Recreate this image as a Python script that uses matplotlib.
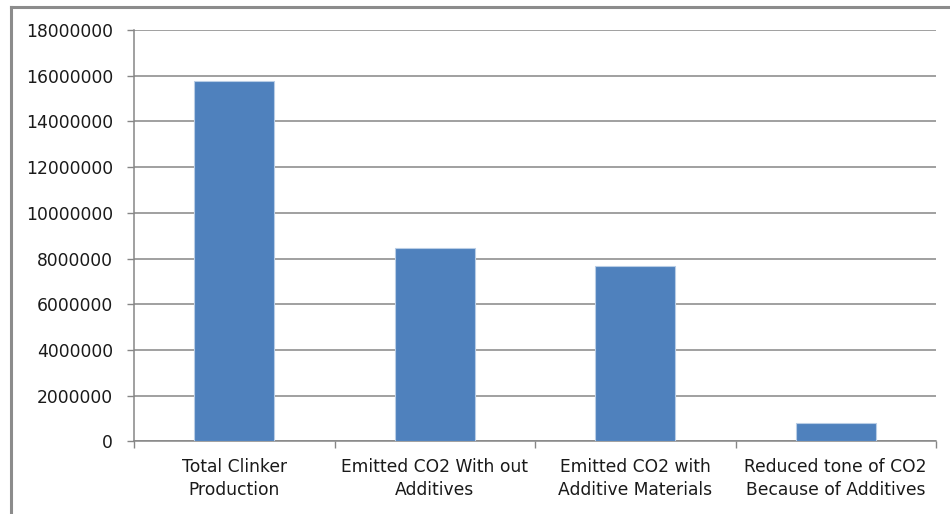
import matplotlib
matplotlib.use("Agg")
import matplotlib.pyplot as plt
from matplotlib.lines import Line2D
from matplotlib.ticker import FixedLocator, NullFormatter

categories = [
    "Total Clinker\nProduction",
    "Emitted CO2 With out\nAdditives",
    "Emitted CO2 with\nAdditive Materials",
    "Reduced tone of CO2\nBecause of Additives",
]
values = [15780000, 8460000, 7680000, 810000]
y_ticks = [0, 2000000, 4000000, 6000000, 8000000, 10000000,
           12000000, 14000000, 16000000, 18000000]

W, H = 950, 514
fig = plt.figure(figsize=(W / 100, H / 100), dpi=100)
ax = fig.add_axes([134 / W, 1 - 441.3 / H, (936 - 134) / W, (441.3 - 30) / H])

grid_color = "#868686"
x = list(range(len(categories)))
ax.bar(x, values, width=0.4, color="#4F81BD", edgecolor="#B9CDE5",
       linewidth=0.8, zorder=3)

ax.set_xlim(-0.5, len(categories) - 0.5)
ax.set_ylim(0, 18000000)
ax.set_yticks(y_ticks)
ax.set_yticklabels([str(v) for v in y_ticks])
ax.yaxis.grid(True, color=grid_color, linewidth=1.1, zorder=0)
ax.set_axisbelow(True)

ax.set_xticks(x)
ax.set_xticklabels(categories, linespacing=1.35)
ax.xaxis.set_minor_locator(FixedLocator([i - 0.5 for i in range(len(categories) + 1)]))
ax.xaxis.set_minor_formatter(NullFormatter())

ax.tick_params(axis="x", which="major", length=0, pad=12, labelsize=12.3,
               labelcolor="#1a1a1a")
ax.tick_params(axis="x", which="minor", length=5, width=1.0, color=grid_color,
               direction="out")
ax.tick_params(axis="y", length=5, width=1.0, color=grid_color, pad=10,
               labelsize=12.3, labelcolor="#1a1a1a")

for side in ("top", "right"):
    ax.spines[side].set_visible(False)
for side in ("left", "bottom"):
    ax.spines[side].set_color(grid_color)
    ax.spines[side].set_linewidth(1.1)

# Outer chart-area frame (left and top edges)
frame_color = "#8c8c8c"
fig.add_artist(Line2D([10.5 / W, 10.5 / W], [0, 1 - 7 / H], transform=fig.transFigure,
                      color=frame_color, linewidth=2.2))
fig.add_artist(Line2D([10.5 / W, 1], [1 - 7 / H, 1 - 7 / H], transform=fig.transFigure,
                      color=frame_color, linewidth=2.2))

fig.savefig("out.png", dpi=100, facecolor="white")
